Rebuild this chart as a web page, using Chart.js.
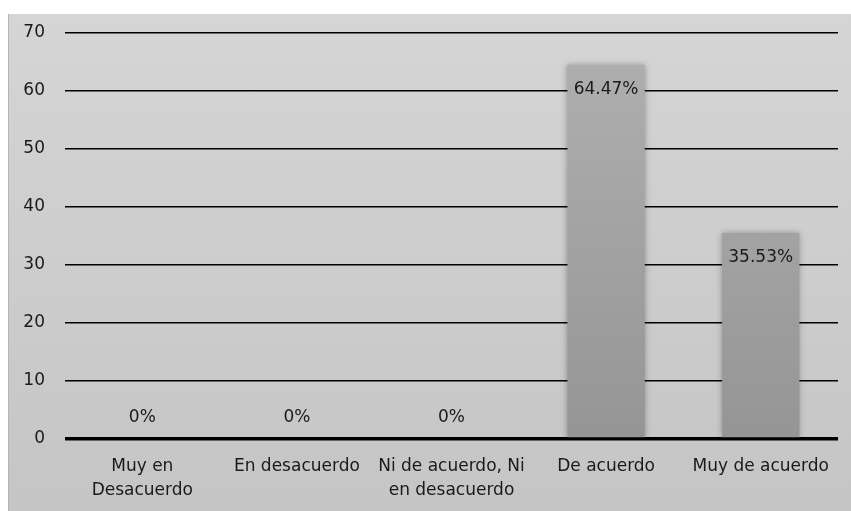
<!DOCTYPE html>
<html>
<head>
<meta charset="utf-8">
<script src="https://cdn.jsdelivr.net/npm/chart.js@4.4.1/dist/chart.umd.min.js"></script>
<style>
  html, body { margin: 0; padding: 0; background: #fff; }
  #box {
    position: absolute; left: 8px; top: 14px; width: 842px; height: 497px;
    border-left: 1px solid #b5b5b5;
    background: linear-gradient(to bottom, #d5d5d5 0%, #c5c5c5 100%);
  }
</style>
</head>
<body>
<div id="box"><canvas id="grafico"></canvas></div>
<script>
var categorias = [['Muy en', 'Desacuerdo'], 'En desacuerdo', ['Ni de acuerdo, Ni', 'en desacuerdo'], 'De acuerdo', 'Muy de acuerdo'];
var porcentajes = [0, 0, 0, 64.47, 35.53];
var marcasY = [0, 10, 20, 30, 40, 50, 60, 70];

var fuente = { family: 'DejaVu Sans', size: 17, lineHeight: 1.4 };

// sombra suave alrededor de las barras
var sombraBarras = {
  id: 'sombraBarras',
  beforeDatasetsDraw: function(chart) {
    var ctx = chart.ctx;
    ctx.save();
    ctx.shadowColor = 'rgba(0,0,0,0.3)';
    ctx.shadowBlur = 6;
    ctx.shadowOffsetX = 0;
    ctx.shadowOffsetY = 0;
  },
  afterDatasetsDraw: function(chart) {
    chart.ctx.restore();
  }
};

// etiquetas de valor (dentro del extremo de la barra, encima si es 0)
var etiquetas = {
  id: 'etiquetas',
  afterDatasetsDraw: function(chart) {
    var ctx = chart.ctx;
    var meta = chart.getDatasetMeta(0);
    ctx.save();
    ctx.font = '17px "DejaVu Sans"';
    ctx.fillStyle = '#1a1a1a';
    ctx.textAlign = 'center';
    ctx.textBaseline = 'middle';
    meta.data.forEach(function(bar, i) {
      var v = porcentajes[i];
      var y = v > 0 ? bar.y + 25 : bar.base - 21;
      ctx.fillText(v + '%', bar.x, y);
    });
    ctx.restore();
  }
};

new Chart(document.getElementById('grafico'), {
  type: 'bar',
  data: {
    labels: categorias,
    datasets: [{
      data: porcentajes,
      backgroundColor: function(c) {
        var area = c.chart.chartArea;
        if (!area) return '#a0a0a0';
        var g = c.chart.ctx.createLinearGradient(0, area.top, 0, area.bottom);
        g.addColorStop(0, '#b0b0b0');
        g.addColorStop(1, '#959595');
        return g;
      },
      borderWidth: 0,
      categoryPercentage: 1,
      barPercentage: 0.5
    }]
  },
  options: {
    responsive: true,
    maintainAspectRatio: false,
    animation: false,
    layout: { padding: { top: 19, right: 13, left: 0, bottom: 0 } },
    plugins: { legend: { display: false }, tooltip: { enabled: false } },
    scales: {
      x: {
        grid: { display: false, drawTicks: false },
        border: { display: false },
        ticks: { color: '#1a1a1a', font: fuente, padding: 16, maxRotation: 0, autoSkip: false },
        afterFit: function(s) { s.height = 72; s.paddingLeft = 0; s.paddingRight = 0; }
      },
      y: {
        min: 0,
        max: 70,
        afterBuildTicks: function(s) { s.ticks = marcasY.map(function(v) { return { value: v }; }); },
        grid: {
          color: '#000',
          drawTicks: false,
          lineWidth: function(c) { return c.tick && c.tick.value === 0 ? 3.5 : 1.5; }
        },
        border: { display: false },
        ticks: { color: '#1a1a1a', font: fuente, padding: 20 },
        afterFit: function(s) { s.width = 56; s.paddingTop = 0; s.paddingBottom = 0; }
      }
    }
  },
  plugins: [sombraBarras, etiquetas]
});
</script>
</body>
</html>
